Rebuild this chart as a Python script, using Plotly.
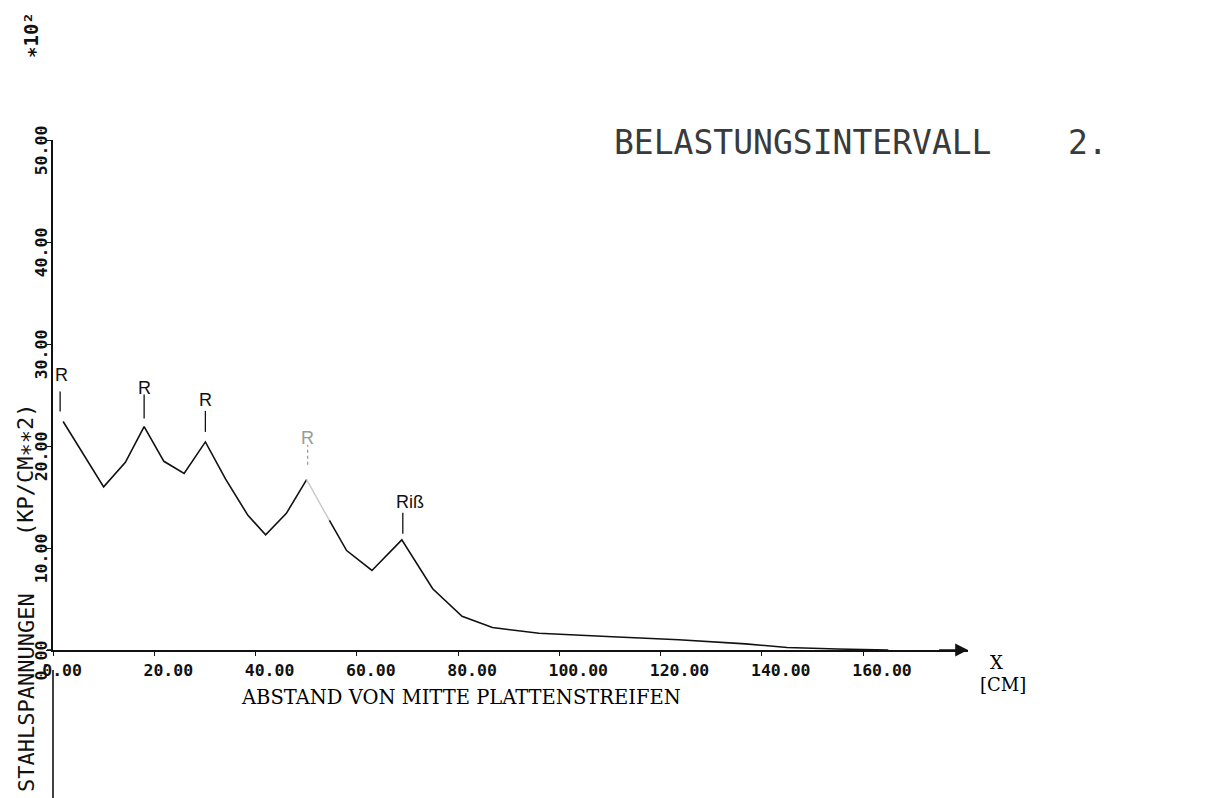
import plotly.graph_objects as go

# ---------------- data ----------------
x_cm = [2.0, 6.8, 10.0, 14.3, 18.0, 21.9, 25.9, 30.1, 34.1, 38.5, 42.0, 46.1, 50.1,
        54.6, 58.0, 63.0, 68.9, 75.0, 80.8, 86.8, 96.0, 110.5, 123.6, 136.8, 145.0,
        155.0, 165.0]
stress = [22.4, 18.5, 16.0, 18.4, 21.9, 18.5, 17.3, 20.4, 16.75, 13.2, 11.3, 13.4, 16.7,
          12.7, 9.75, 7.8, 10.8, 6.0, 3.3, 2.2, 1.64, 1.3, 1.0, 0.6, 0.25,
          0.1, 0.0]

x_ticks = [0, 20, 40, 60, 80, 100, 120, 140, 160]
x_ticklabels = ["0.00", "20.00", "40.00", "60.00", "80.00", "100.00", "120.00", "140.00", "160.00"]
y_ticks = [0, 10, 20, 30, 40, 50]
y_ticklabels = ["0.00", "10.00", "20.00", "30.00", "40.00", "50.00"]

crack_labels = ["R", "R", "R", "R", "Riß"]
crack_index = [0, 4, 7, 12, 16]          # which curve point each label marks

title_text = "BELASTUNGSINTERVALL"
title_number = "2."
x_title = "ABSTAND VON MITTE PLATTENSTREIFEN"
y_title_a = "STAHLSPANNUNGEN"
y_title_b = "(KP/CM∗∗2)"
scale_note = "∗10²"

# ---------------- layout geometry ----------------
OFF = 8                    # default page margin of the html body
W, H = 1207 - OFF, 798 - OFF
PL, PR = 53, 968           # plot area left/right in page px
PT, PB = 140, 650          # plot area top/bottom in page px
X_MAX = 160 * (PR - PL) / (863 - PL)

def px(xp):
    return (xp - PL) / (PR - PL)

def py(yp):
    return (PB - yp) / (PB - PT)

fig = go.Figure()

# curve: solid, faded part, solid
seg1 = slice(0, 13)
seg2 = slice(12, 14)
seg3 = slice(13, None)
fig.add_trace(go.Scatter(x=x_cm[seg1], y=stress[seg1], mode="lines",
                         line=dict(color="#111", width=1.6), showlegend=False))
fig.add_trace(go.Scatter(x=x_cm[seg2], y=stress[seg2], mode="lines",
                         line=dict(color="#c8c8c8", width=1.4), showlegend=False))
fig.add_trace(go.Scatter(x=x_cm[seg3], y=stress[seg3], mode="lines",
                         line=dict(color="#111", width=1.6), showlegend=False))

# crack markers
text_dy = [47, 39, 42, 42, 38]
text_dx = [-2, 0, 0, 1, 8]
stem_y0 = [10, 8, 10, 15, 6]
stem_y1 = [30, 32, 31, 35, 27]
stem_dx = [-3, 0, 0, 1, 1]
label_col = ["#111", "#111", "#111", "#9a9a9a", "#111"]
for k, (lab, i) in enumerate(zip(crack_labels, crack_index)):
    fig.add_annotation(x=x_cm[i], y=stress[i], text=lab, showarrow=False,
                       xshift=text_dx[k], yshift=text_dy[k],
                       font=dict(family="Liberation Sans", size=18, color=label_col[k]))
    fig.add_shape(type="line", xref="x", yref="y", xsizemode="pixel", ysizemode="pixel",
                  xanchor=x_cm[i], yanchor=stress[i],
                  x0=stem_dx[k], x1=stem_dx[k], y0=stem_y0[k], y1=stem_y1[k],
                  line=dict(color=label_col[k], width=1.3,
                            dash="dot" if k == 3 else "solid"))

# arrow head on x-axis
fig.add_annotation(x=X_MAX, y=0, ax=X_MAX - 6, ay=0, axref="x", ayref="y",
                   xref="x", yref="y", text="", showarrow=True,
                   arrowhead=2, arrowsize=1.6, arrowwidth=1.6, arrowcolor="#111")

# y-axis extension below the x-axis, and x-axis stub left of origin
fig.add_shape(type="line", xref="paper", yref="paper", x0=0, x1=0,
              y0=py(670), y1=py(800), line=dict(color="#111", width=1.6))
fig.add_shape(type="line", xref="paper", yref="paper", x0=px(47), x1=0,
              y0=0, y1=0, line=dict(color="#111", width=1.6))

# title
fig.add_annotation(xref="paper", yref="paper", x=px(612), y=py(142), text=title_text,
                   showarrow=False, xanchor="left", yanchor="middle",
                   font=dict(family="DejaVu Sans Mono", size=33, color="#3a3a3a"))
fig.add_annotation(xref="paper", yref="paper", x=px(1066), y=py(142), text=title_number,
                   showarrow=False, xanchor="left", yanchor="middle",
                   font=dict(family="DejaVu Sans Mono", size=33, color="#3a3a3a"))

# x-axis title and unit
fig.add_annotation(xref="paper", yref="paper", x=px(461), y=py(697), text=x_title,
                   showarrow=False, xanchor="center", yanchor="middle",
                   font=dict(family="DejaVu Serif", size=19.5, color="#000"))
fig.add_annotation(xref="paper", yref="paper", x=px(997), y=py(662), text="X",
                   showarrow=False, xanchor="center", yanchor="middle",
                   font=dict(family="DejaVu Serif", size=18, color="#000"))
fig.add_annotation(xref="paper", yref="paper", x=px(1003), y=py(684), text="[CM]",
                   showarrow=False, xanchor="center", yanchor="middle",
                   font=dict(family="DejaVu Serif", size=18, color="#000"))

# y-axis title (rotated)
fig.add_annotation(xref="paper", yref="paper", x=px(26), y=py(470), text=y_title_b,
                   showarrow=False, textangle=-90, xanchor="center", yanchor="middle",
                   font=dict(family="DejaVu Sans Mono", size=22, color="#111"))
fig.add_annotation(xref="paper", yref="paper", x=px(26), y=py(693), text=y_title_a,
                   showarrow=False, textangle=-90, xanchor="center", yanchor="middle",
                   font=dict(family="DejaVu Sans Mono", size=22, color="#111"))

# scale factor note
fig.add_annotation(xref="paper", yref="paper", x=px(31), y=py(35), text=scale_note,
                   showarrow=False, textangle=-90, xanchor="center", yanchor="middle",
                   font=dict(family="DejaVu Sans Mono", size=19, color="#111", weight="bold"))

NB = "\u00a0"
x_ticktext = [t + NB * (6 - len(t)) for t in x_ticklabels]

tickfont = dict(family="DejaVu Sans Mono", size=16.5, color="#111", weight="bold")
fig.update_layout(
    width=W, height=H,
    margin=dict(l=PL - OFF, r=W - (PR - OFF), t=PT - OFF, b=H - (PB - OFF), pad=0),
    paper_bgcolor="white", plot_bgcolor="white",
    xaxis=dict(range=[0, X_MAX], showgrid=False, zeroline=False,
               showline=True, linecolor="#111", linewidth=1.6,
               ticks="outside", ticklen=4, tickwidth=1.3, tickcolor="#111",
               tickvals=x_ticks, ticktext=x_ticktext, tickfont=tickfont,
               ticklabelshift=19, ticklabelstandoff=0),
    yaxis=dict(range=[0, 50], showgrid=False, zeroline=False,
               showline=True, linecolor="#111", linewidth=1.6,
               ticks="outside", ticklen=5, tickwidth=1.3, tickcolor="#111",
               tickvals=y_ticks, ticktext=y_ticklabels, tickfont=tickfont,
               tickangle=-90, ticklabelshift=13, ticklabelstandoff=-7),
)

fig.write_html("out.html")
